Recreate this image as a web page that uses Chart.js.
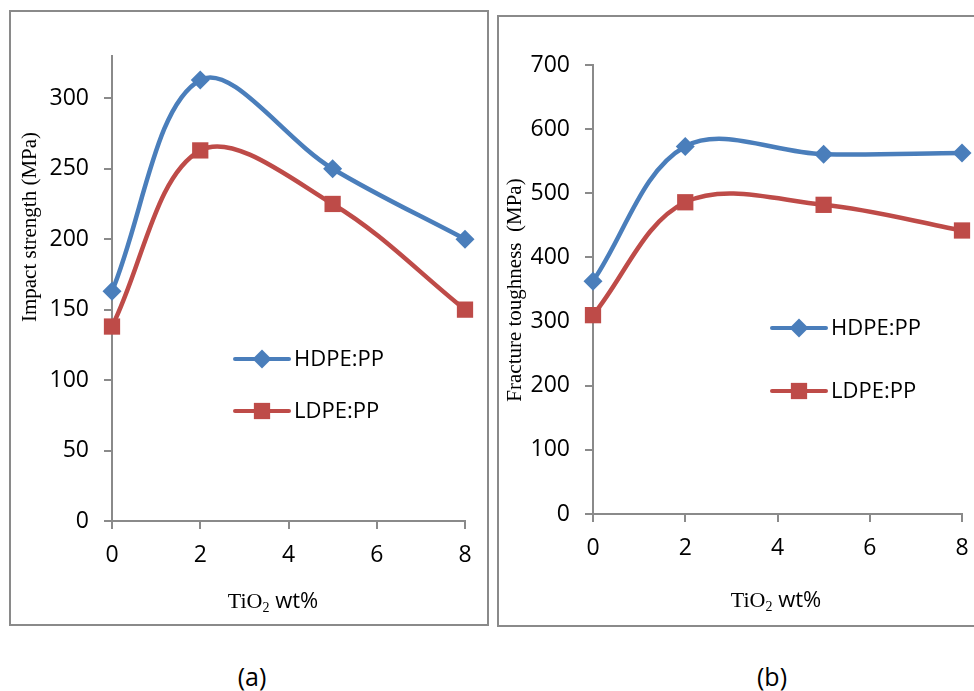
<!DOCTYPE html>
<html>
<head>
<meta charset="utf-8">
<script src="https://cdn.jsdelivr.net/npm/chart.js@4.4.1/dist/chart.umd.min.js"></script>
<style>
  body { margin: 0; background: #fff; width: 974px; height: 691px; overflow: hidden; position: relative; font-family: "Open Sans", sans-serif; }
  .box { position: absolute; border: 2px solid #8a8a8a; box-sizing: border-box; }
  canvas { position: absolute; top: 0; }
  .cap { position: absolute; top: 676px; font-size: 25px; transform: translate(-50%, -50%); color: #000; }
</style>
</head>
<body>
<div class="box" style="left:9px;top:10px;width:480px;height:616px"></div>
<div class="box" style="left:497px;top:15px;width:490px;height:612px"></div>
<canvas id="chartA" width="490" height="640" style="left:0"></canvas>
<canvas id="chartB" width="484" height="640" style="left:490px"></canvas>
<div class="cap" style="left:252px">(a)</div>
<div class="cap" style="left:772px">(b)</div>

<script>
// data
const tio2 = [0, 2, 5, 8];
const xTicks = [0, 2, 4, 6, 8];

const impactHdpe = [163, 313, 250, 200];
const impactLdpe = [138, 263, 225, 150];
const impactTicks = [0, 50, 100, 150, 200, 250, 300];

const toughHdpe = [363, 573, 561, 563];
const toughLdpe = [310, 486, 482, 442];
const toughTicks = [0, 100, 200, 300, 400, 500, 600, 700];

const blue = '#4A7EBB';
const red = '#BE4B48';
const axisGrey = '#8a8a8a';
const tickFont = { family: 'Open Sans', size: 23 };

// axis titles and the in-plot legend
const panelDecor = {
  id: 'panelDecor',
  afterDraw(chart, args, opts) {
    const ctx = chart.ctx;
    ctx.save();
    ctx.fillStyle = '#000';

    // y title, rotated
    ctx.save();
    ctx.translate(opts.yTitleX, opts.yTitleY);
    ctx.rotate(-Math.PI / 2);
    ctx.font = opts.yTitleSize + 'px "Liberation Serif"';
    ctx.textAlign = 'center';
    ctx.textBaseline = 'middle';
    ctx.fillText(opts.yTitle, 0, 0);
    ctx.restore();

    // x title: TiO2 wt%
    const serif = '22px "Liberation Serif"';
    const sub = '14px "Liberation Serif"';
    const sans = '22px "Open Sans"';
    ctx.textAlign = 'left';
    ctx.textBaseline = 'alphabetic';
    ctx.font = serif; const w1 = ctx.measureText('TiO').width;
    ctx.font = sub; const w2 = ctx.measureText('2').width;
    ctx.font = sans; const w3 = ctx.measureText(' wt%').width;
    let x = opts.xTitleX - (w1 + w2 + w3) / 2;
    const y = opts.xTitleY;
    ctx.font = serif; ctx.fillText('TiO', x, y); x += w1;
    ctx.font = sub; ctx.fillText('2', x, y + 4); x += w2;
    ctx.font = sans; ctx.fillText(' wt%', x, y);

    // legend
    chart.data.datasets.forEach((ds, i) => {
      const ly = opts.legY + i * opts.legGap;
      const lx = opts.legX;
      ctx.strokeStyle = ds.borderColor;
      ctx.lineWidth = 4;
      ctx.lineCap = 'round';
      ctx.beginPath();
      ctx.moveTo(lx, ly);
      ctx.lineTo(lx + 54, ly);
      ctx.stroke();
      const cx = lx + 27;
      ctx.fillStyle = ds.pointBackgroundColor;
      ctx.beginPath();
      if (ds.pointStyle === 'rectRot') {
        const r = ds.pointRadius;
        ctx.moveTo(cx, ly - r);
        ctx.lineTo(cx + r, ly);
        ctx.lineTo(cx, ly + r);
        ctx.lineTo(cx - r, ly);
        ctx.closePath();
      } else {
        const h = ds.pointRadius * Math.SQRT1_2;
        ctx.rect(cx - h, ly - h, 2 * h, 2 * h);
      }
      ctx.fill();
      ctx.fillStyle = '#000';
      ctx.font = '22px "Open Sans"';
      ctx.textBaseline = 'middle';
      ctx.fillText(ds.label, lx + 59, ly + 1);
    });
    ctx.restore();
  }
};

function series(label, xs, ys, color, style, radius) {
  return {
    label: label,
    data: xs.map((v, i) => ({ x: v, y: ys[i] })),
    borderColor: color,
    backgroundColor: color,
    pointBackgroundColor: color,
    pointBorderColor: color,
    pointBorderWidth: 0,
    pointStyle: style,
    pointRadius: radius,
    borderWidth: 4.5,
    tension: 0.35,
    clip: false
  };
}

function makeChart(id, sets, yMax, yTicks, box, decor) {
  return new Chart(document.getElementById(id), {
    type: 'line',
    data: { datasets: sets },
    options: {
      responsive: false,
      animation: false,
      devicePixelRatio: 1,
      layout: { padding: { left: 0, top: box.top, right: box.right, bottom: 0 } },
      scales: {
        x: {
          type: 'linear',
          min: 0,
          max: 8,
          afterBuildTicks: s => { s.ticks = xTicks.map(v => ({ value: v })); },
          afterFit: s => { s.height = box.xHeight; s.paddingLeft = 0; s.paddingRight = 0; },
          grid: { drawOnChartArea: false, drawTicks: true, tickLength: 8, color: axisGrey, lineWidth: 2 },
          border: { color: axisGrey, width: 2 },
          ticks: { font: tickFont, color: '#000', padding: 13, maxRotation: 0 }
        },
        y: {
          min: 0,
          max: yMax,
          afterBuildTicks: s => { s.ticks = yTicks.map(v => ({ value: v })); },
          afterFit: s => { s.width = box.yWidth; s.paddingTop = 0; s.paddingBottom = 0; },
          grid: { drawOnChartArea: false, drawTicks: true, tickLength: 8, color: axisGrey, lineWidth: 2 },
          border: { color: axisGrey, width: 2 },
          ticks: { font: tickFont, color: '#000', padding: 15 }
        }
      },
      plugins: {
        legend: { display: false },
        tooltip: { enabled: false },
        panelDecor: decor
      }
    },
    plugins: [panelDecor]
  });
}

makeChart('chartA', [
  series('HDPE:PP', tio2, impactHdpe, blue, 'rectRot', 9.5),
  series('LDPE:PP', tio2, impactLdpe, red, 'rect', 11.5)
], 330, impactTicks,
  { top: 56, right: 25, xHeight: 119, yWidth: 112 },
  { yTitle: 'Impact strength (MPa)', yTitleSize: 21, yTitleX: 30, yTitleY: 227,
    xTitleX: 273, xTitleY: 608, legX: 235, legY: 359, legGap: 52 });

makeChart('chartB', [
  series('HDPE:PP', tio2, toughHdpe, blue, 'rectRot', 9.5),
  series('LDPE:PP', tio2, toughLdpe, red, 'rect', 11.5)
], 700, toughTicks,
  { top: 65, right: 12, xHeight: 126, yWidth: 103 },
  { yTitle: 'Fracture toughness  (MPa)', yTitleSize: 21, yTitleX: 25, yTitleY: 290,
    xTitleX: 286, xTitleY: 607, legX: 282, legY: 328, legGap: 63 });
</script>
</body>
</html>
